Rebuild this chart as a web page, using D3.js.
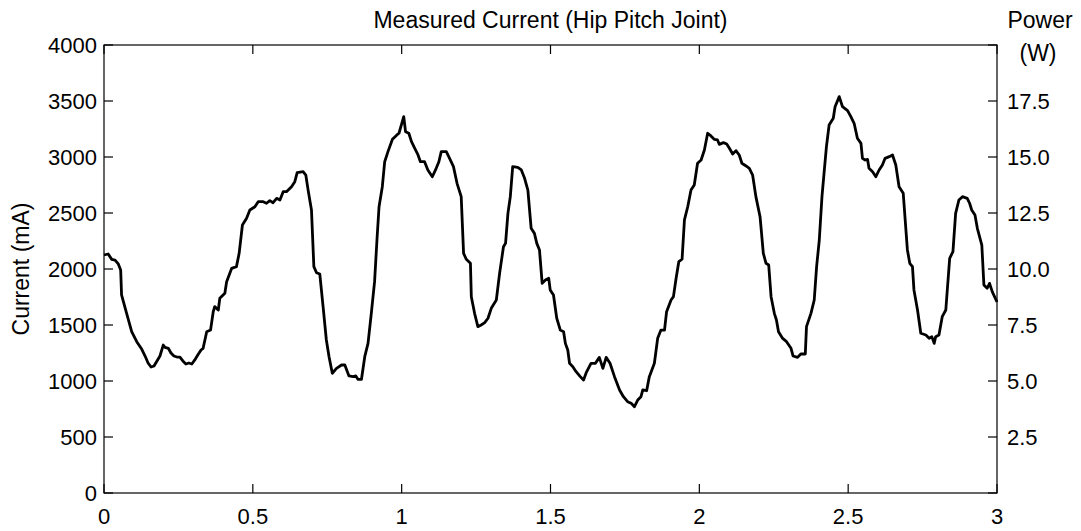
<!DOCTYPE html>
<html>
<head>
<meta charset="utf-8">
<script src="https://cdn.jsdelivr.net/npm/d3@7"></script>
<style>
  html, body { margin: 0; padding: 0; background: #fff; }
  svg { display: block; font-family: "Liberation Sans", Arial, sans-serif; }
</style>
</head>
<body>
<svg id="chart" width="1081" height="531"></svg>
<script>
// Hip pitch joint current trace (time in s, current in mA)
const timeS = [
  0.000, 0.014, 0.026, 0.037, 0.048, 0.056, 0.059, 0.076, 0.093, 0.110,
  0.127, 0.138, 0.148, 0.158, 0.168, 0.178, 0.188, 0.199, 0.205, 0.216,
  0.225, 0.235, 0.245, 0.255, 0.265, 0.275, 0.285, 0.295, 0.305, 0.315,
  0.326, 0.333, 0.345, 0.358, 0.367, 0.372, 0.384, 0.389, 0.406, 0.412,
  0.429, 0.445, 0.454, 0.465, 0.479, 0.490, 0.507, 0.518, 0.535, 0.546,
  0.557, 0.568, 0.580, 0.591, 0.602, 0.613, 0.630, 0.641, 0.649, 0.669,
  0.678, 0.686, 0.697, 0.705, 0.714, 0.725, 0.736, 0.747, 0.756, 0.767,
  0.781, 0.798, 0.809, 0.823, 0.837, 0.846, 0.853, 0.865, 0.876, 0.887,
  0.898, 0.909, 0.917, 0.924, 0.935, 0.943, 0.954, 0.969, 0.984, 0.991,
  0.999, 1.007, 1.013, 1.024, 1.033, 1.044, 1.055, 1.063, 1.077, 1.088,
  1.103, 1.116, 1.125, 1.133, 1.150, 1.161, 1.174, 1.186, 1.200, 1.208,
  1.217, 1.231, 1.234, 1.245, 1.256, 1.267, 1.279, 1.290, 1.301, 1.318,
  1.329, 1.342, 1.349, 1.357, 1.365, 1.373, 1.390, 1.402, 1.413, 1.424,
  1.435, 1.446, 1.454, 1.463, 1.472, 1.483, 1.494, 1.499, 1.510, 1.521,
  1.533, 1.544, 1.550, 1.558, 1.564, 1.575, 1.586, 1.600, 1.611, 1.620,
  1.636, 1.651, 1.664, 1.676, 1.687, 1.700, 1.715, 1.732, 1.745, 1.759,
  1.771, 1.782, 1.793, 1.804, 1.810, 1.823, 1.832, 1.849, 1.860, 1.871,
  1.883, 1.890, 1.905, 1.913, 1.922, 1.931, 1.942, 1.950, 1.961, 1.972,
  1.983, 1.994, 2.006, 2.017, 2.028, 2.039, 2.050, 2.061, 2.067, 2.081,
  2.092, 2.101, 2.112, 2.123, 2.134, 2.143, 2.157, 2.168, 2.179, 2.190,
  2.204, 2.215, 2.224, 2.233, 2.241, 2.252, 2.259, 2.266, 2.280, 2.293,
  2.308, 2.315, 2.330, 2.341, 2.356, 2.360, 2.375, 2.386, 2.394, 2.403,
  2.412, 2.419, 2.427, 2.436, 2.450, 2.456, 2.470, 2.481, 2.498, 2.509,
  2.520, 2.531, 2.543, 2.548, 2.557, 2.565, 2.570, 2.582, 2.593, 2.604,
  2.615, 2.624, 2.638, 2.649, 2.660, 2.671, 2.685, 2.699, 2.707, 2.716,
  2.721, 2.733, 2.744, 2.761, 2.772, 2.781, 2.789, 2.794, 2.805, 2.816,
  2.828, 2.841, 2.852, 2.861, 2.872, 2.884, 2.900, 2.908, 2.915, 2.926,
  2.934, 2.949, 2.956, 2.967, 2.975, 2.984, 3.000
];
const currentMA = [
  2125, 2134, 2086, 2080, 2045, 1991, 1768, 1604, 1440, 1351,
  1283, 1223, 1161, 1125, 1134, 1179, 1223, 1321, 1300, 1292,
  1250, 1223, 1214, 1214, 1179, 1152, 1161, 1152, 1188, 1232,
  1277, 1292, 1440, 1455, 1619, 1664, 1634, 1738, 1783, 1887,
  2006, 2021, 2140, 2393, 2453, 2527, 2556, 2601, 2601, 2587,
  2610, 2592, 2631, 2616, 2690, 2690, 2735, 2780, 2860, 2869,
  2839, 2700, 2527, 2021, 1967, 1955, 1664, 1366, 1217, 1069,
  1113, 1143, 1143, 1045, 1039, 1045, 1015, 1015, 1217, 1336,
  1604, 1887, 2259, 2556, 2735, 2958, 3048, 3158, 3197, 3212,
  3286, 3360, 3226, 3212, 3137, 3078, 3018, 2958, 2958, 2884,
  2824, 2899, 2958, 3048, 3048, 2988, 2914, 2765, 2646, 2140,
  2087, 2051, 1753, 1604, 1485, 1500, 1521, 1560, 1649, 1723,
  1961, 2199, 2229, 2497, 2646, 2914, 2908, 2884, 2810, 2705,
  2363, 2318, 2229, 2170, 1872, 1902, 1917, 1813, 1768, 1560,
  1455, 1440, 1336, 1277, 1158, 1128, 1083, 1039, 1009, 1074,
  1158, 1158, 1211, 1113, 1211, 1158, 1039, 920, 860, 815,
  801, 771, 830, 860, 920, 913, 1039, 1158, 1381, 1455,
  1455, 1619, 1723, 1753, 1917, 2065, 2087, 2438, 2556, 2705,
  2750, 2944, 2973, 3063, 3212, 3188, 3158, 3152, 3113, 3128,
  3116, 3078, 3027, 3057, 3018, 2944, 2920, 2899, 2839, 2646,
  2467, 2140, 2051, 2036, 1753, 1604, 1545, 1440, 1380, 1351,
  1292, 1223, 1211, 1241, 1241, 1485, 1604, 1723, 2021, 2259,
  2646, 2855, 3092, 3286, 3346, 3449, 3539, 3449, 3414, 3360,
  3301, 3167, 3122, 2988, 2973, 2979, 2899, 2869, 2824, 2884,
  2929, 2988, 3003, 3018, 2929, 2735, 2676, 2170, 2051, 2021,
  1813, 1634, 1426, 1411, 1381, 1396, 1336, 1396, 1411, 1574,
  1634, 2095, 2155, 2497, 2616, 2646, 2631, 2587, 2527, 2482,
  2363, 2214, 1857, 1828, 1872, 1798, 1705
];

// Axis ticks
const timeTicks = [0, 0.5, 1, 1.5, 2, 2.5, 3];
const timeTickLabels = ["0", "0.5", "1", "1.5", "2", "2.5", "3"];
const currentTicks = [0, 500, 1000, 1500, 2000, 2500, 3000, 3500, 4000];
const powerTicks = [0, 2.5, 5, 7.5, 10, 12.5, 15, 17.5, 20];
const powerTickLabels = ["", "2.5", "5.0", "7.5", "10.0", "12.5", "15.0", "17.5", ""];

const svg = d3.select("#chart");
const plotLeft = 104, plotRight = 997, plotTop = 45, plotBottom = 493;
const tickLen = 9;
const tickFont = 22;
const labelFont = 23;

const x = d3.scaleLinear().domain([0, 3]).range([plotLeft, plotRight]);
const y = d3.scaleLinear().domain([0, 4000]).range([plotBottom, plotTop]);
const yPower = d3.scaleLinear().domain([0, 20]).range([plotBottom, plotTop]);

// Frame
svg.append("rect")
  .attr("x", plotLeft).attr("y", plotTop)
  .attr("width", plotRight - plotLeft).attr("height", plotBottom - plotTop)
  .attr("fill", "none").attr("stroke", "#000").attr("stroke-width", 1.2);

const tickG = svg.append("g").attr("stroke", "#000").attr("stroke-width", 1.2);

// Time ticks (bottom and top, pointing inward)
timeTicks.forEach(t => {
  tickG.append("line").attr("x1", x(t)).attr("x2", x(t))
    .attr("y1", plotBottom).attr("y2", plotBottom - tickLen);
  tickG.append("line").attr("x1", x(t)).attr("x2", x(t))
    .attr("y1", plotTop).attr("y2", plotTop + tickLen);
});
// Current ticks on the left axis
currentTicks.forEach(v => {
  tickG.append("line").attr("x1", plotLeft).attr("x2", plotLeft + tickLen)
    .attr("y1", y(v)).attr("y2", y(v));
});
// Power ticks on the right axis
powerTicks.forEach(v => {
  tickG.append("line").attr("x1", plotRight).attr("x2", plotRight - tickLen)
    .attr("y1", yPower(v)).attr("y2", yPower(v));
});

const textG = svg.append("g").attr("fill", "#000").attr("font-size", tickFont);

timeTicks.forEach((t, i) => {
  textG.append("text").attr("x", x(t)).attr("y", 524)
    .attr("text-anchor", "middle").text(timeTickLabels[i]);
});
currentTicks.forEach(v => {
  textG.append("text").attr("x", 97).attr("y", y(v)).attr("dy", "0.36em")
    .attr("text-anchor", "end").text(String(v));
});
powerTicks.forEach((v, i) => {
  if (!powerTickLabels[i]) return;
  textG.append("text").attr("x", 1007).attr("y", yPower(v)).attr("dy", "0.36em")
    .attr("text-anchor", "start").text(powerTickLabels[i]);
});

// Titles
const labelG = svg.append("g").attr("fill", "#000").attr("font-size", labelFont);
labelG.append("text").attr("x", (plotLeft + plotRight) / 2).attr("y", 28)
  .attr("text-anchor", "middle").text("Measured Current (Hip Pitch Joint)");
labelG.append("text")
  .attr("transform", `translate(29,${(plotTop + plotBottom) / 2}) rotate(-90)`)
  .attr("text-anchor", "middle").text("Current (mA)");
labelG.append("text").attr("x", 1040).attr("y", 28)
  .attr("text-anchor", "middle").text("Power");
labelG.append("text").attr("x", 1038).attr("y", 61)
  .attr("text-anchor", "middle").text("(W)");

// Current trace
const line = d3.line()
  .x((d, i) => x(timeS[i]))
  .y(d => y(d));

svg.append("path")
  .datum(currentMA)
  .attr("fill", "none")
  .attr("stroke", "#000")
  .attr("stroke-width", 2.8)
  .attr("stroke-linejoin", "round")
  .attr("d", line);
</script>
</body>
</html>
